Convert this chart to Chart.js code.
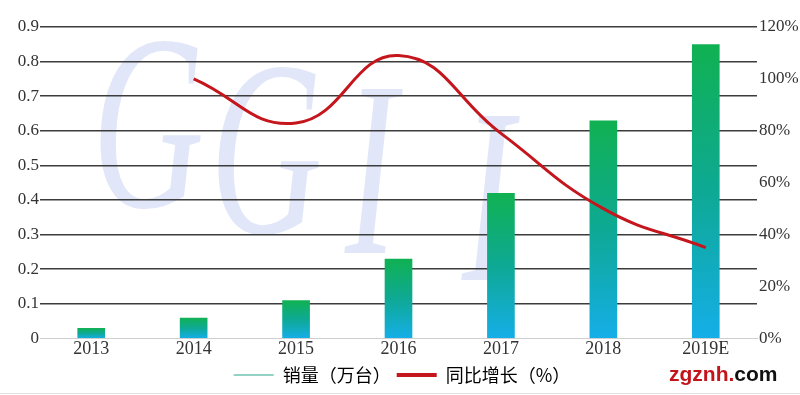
<!DOCTYPE html>
<html>
<head>
<meta charset="utf-8">
<script src="https://cdn.jsdelivr.net/npm/chart.js@4/dist/chart.umd.min.js"></script>
<style>
html,body{margin:0;padding:0;background:#fff;}
#wrap{width:800px;height:395px;position:relative;}
</style>
</head>
<body>
<div id="wrap"><canvas id="c" width="800" height="395"></canvas></div>
<script>
const categories = ['2013','2014','2015','2016','2017','2018','2019E'];
const salesValues = [0.03, 0.06, 0.11, 0.23, 0.42, 0.63, 0.85];
const growthValues = [null, 100, 83, 109, 79, 50, 35];
const leftTicks = [0,0.1,0.2,0.3,0.4,0.5,0.6,0.7,0.8,0.9];
const rightTicks = [0,20,40,60,80,100,120];
const salesLabel = '销量（万台）';
const growthLabel = '同比增长（%）';
const watermarkLetters = ['G','G','I','I'];
const logoRed = 'zgznh.';
const logoBlack = 'com';

const serif = "'Liberation Serif','DejaVu Serif',serif";
const cjk = "'Noto Sans CJK SC','Noto Sans',sans-serif";

function barGradient(context){
  const chart = context.chart;
  const {ctx, chartArea, scales} = chart;
  if(!chartArea || context.type !== 'data') return '#12a97a';
  const v = context.raw;
  const top = scales.y.getPixelForValue(v);
  const base = scales.y.getPixelForValue(0);
  const g = ctx.createLinearGradient(0, top, 0, base);
  g.addColorStop(0, '#10b152');
  g.addColorStop(0.5, '#0ea994');
  g.addColorStop(1, '#15aee8');
  return g;
}

const bgPlugin = {
  id:'bg',
  beforeDraw(chart){
    const {ctx} = chart;
    ctx.save();
    ctx.fillStyle = '#fff';
    ctx.fillRect(0,0,chart.width,chart.height);
    ctx.fillStyle = '#e1e7f8';
    ctx.font = "italic 250px " + serif;
    ctx.textBaseline = 'alphabetic';
    ctx.textAlign = 'left';
    const pos = [[92,207],[210,233],[345,253],[462,280]];
    watermarkLetters.forEach((ch,i)=>{
      ctx.save();
      ctx.translate(pos[i][0], pos[i][1]);
      ctx.scale(0.62, 1);
      ctx.fillText(ch, 0, 0);
      ctx.restore();
    });
    ctx.restore();
  },
  afterDraw(chart){
    const {ctx} = chart;
    ctx.save();
    ctx.font = "bold 21px 'Liberation Sans','DejaVu Sans',sans-serif";
    ctx.textBaseline = 'alphabetic';
    ctx.textAlign = 'left';
    const w1 = ctx.measureText(logoRed).width;
    const x0 = 669;
    ctx.fillStyle = '#c3141b';
    ctx.fillText(logoRed, x0, 381);
    ctx.fillStyle = '#111';
    ctx.fillText(logoBlack, x0 + w1, 381);
    ctx.strokeStyle = '#e2e2e2';
    ctx.lineWidth = 1;
    ctx.beginPath();
    ctx.moveTo(0, 393.5); ctx.lineTo(800, 393.5);
    ctx.stroke();
    ctx.restore();
  }
};

new Chart(document.getElementById('c'), {
  data: {
    labels: categories,
    datasets: [
      {
        type:'line',
        label: growthLabel,
        data: growthValues,
        yAxisID:'y1',
        borderColor:'#c4161c',
        borderWidth:3,
        pointRadius:0,
        tension:0.45,
        fill:false,
        order:0
      },
      {
        type:'bar',
        label: salesLabel,
        data: salesValues,
        yAxisID:'y',
        backgroundColor: barGradient,
        barPercentage:0.27,
        categoryPercentage:1,
        order:1
      }
    ]
  },
  options: {
    responsive:false,
    animation:false,
    devicePixelRatio:1,
    layout:{padding:{top:27,left:4,right:0,bottom:1}},
    plugins:{
      tooltip:{enabled:false},
      legend:{
        position:'bottom',
        labels:{
          usePointStyle:true,
          pointStyleWidth:40,
          boxHeight:8,
          padding:6,
          color:'#555',
          font:{family:cjk, size:18, lineHeight:1},
          generateLabels(chart){
            return [
              {text:salesLabel, pointStyle:'line', strokeStyle:'#2aa88a', fillStyle:'#2aa88a', lineWidth:1.2, datasetIndex:1},
              {text:growthLabel, pointStyle:'line', strokeStyle:'#c4161c', fillStyle:'#c4161c', lineWidth:4, datasetIndex:0}
            ];
          }
        }
      }
    },
    scales:{
      x:{
        grid:{display:false, drawTicks:false},
        border:{display:true, color:'#cfcfcf', width:1},
        ticks:{color:'#333', font:{family:serif, size:18}, padding:0}
      },
      y:{
        position:'left',
        min:0, max:0.9,
        afterBuildTicks(scale){ scale.ticks = leftTicks.map(v=>({value:v})); },
        afterFit(scale){ scale.width = 36; },
        grid:{
          color:(c)=> c.tick && c.tick.value===0 ? '#d0d0d0' : '#3c3c3c',
          lineWidth:(c)=> c.tick && c.tick.value===0 ? 1 : 1.5,
          drawTicks:false
        },
        border:{display:false},
        ticks:{
          color:'#333', font:{family:serif, size:17}, padding:1,
          callback:(v)=> v===0 ? '0' : Number(v).toFixed(1)
        }
      },
      y1:{
        position:'right',
        min:0, max:120,
        afterBuildTicks(scale){ scale.ticks = rightTicks.map(v=>({value:v})); },
        afterFit(scale){ scale.width = 43; },
        grid:{display:false, drawTicks:false},
        border:{display:false},
        ticks:{color:'#333', font:{family:serif, size:17}, padding:2, callback:(v)=> v+'%'}
      }
    }
  },
  plugins:[bgPlugin]
});
</script>
</body>
</html>
